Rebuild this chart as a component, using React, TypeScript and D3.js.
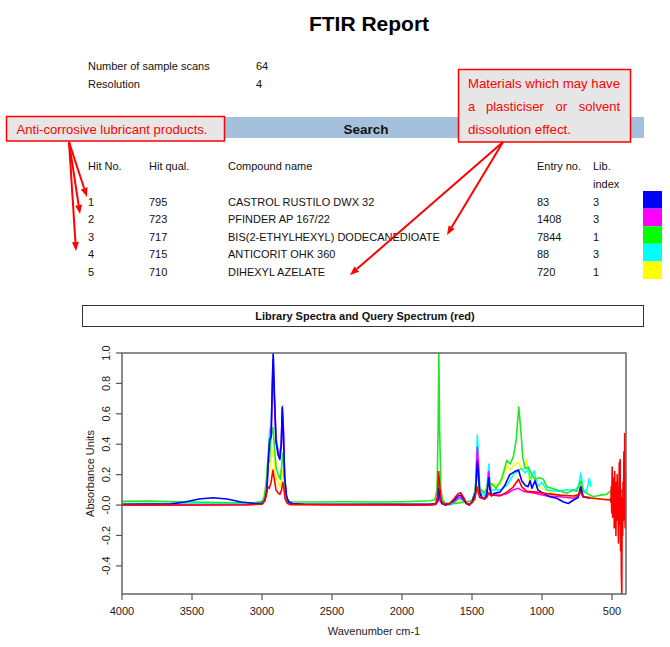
import React from 'react';
import * as d3 from 'd3';

// ---- report data ----
const scanInfo = [
  ['Number of sample scans', '64'],
  ['Resolution', '4'],
];
const hitNo = ['1', '2', '3', '4', '5'];
const hitQual = ['795', '723', '717', '715', '710'];
const compoundNames = [
  'CASTROL RUSTILO DWX 32',
  'PFINDER AP 167/22',
  'BIS(2-ETHYLHEXYL) DODECANEDIOATE',
  'ANTICORIT OHK 360',
  'DIHEXYL AZELATE',
];
const entryNo = ['83', '1408', '7844', '88', '720'];
const libIndex = ['3', '3', '1', '3', '1'];
const hitColors = ['#0000ff', '#ff00ff', '#00ff00', '#00ffff', '#ffff00'];

// ---- axis ticks ----
const xTicks = [4000, 3500, 3000, 2500, 2000, 1500, 1000, 500];
const yTicks = [1.0, 0.8, 0.6, 0.4, 0.2, 0.0, -0.2, -0.4];
const yTickLabels = ['1.0', '0.8', '0.6', '0.4', '0.2', '-0.0', '-0.2', '-0.4'];

// ---- spectra [wavenumber, absorbance] ----
const blueSpec: [number, number][] = [
  [4000, 0.005], [3800, 0.006], [3650, 0.008], [3550, 0.02], [3450, 0.04], [3350, 0.048], [3250, 0.04], [3150, 0.02],
  [3050, 0.01], [3000, 0.012], [2980, 0.03], [2965, 0.1], [2955, 0.3], [2945, 0.43], [2935, 0.45], [2925, 0.85],
  [2920, 1.0], [2912, 0.75], [2900, 0.42], [2885, 0.33], [2872, 0.3], [2862, 0.4], [2855, 0.64], [2848, 0.5],
  [2838, 0.18], [2825, 0.06], [2810, 0.02], [2780, 0.01], [2700, 0.005], [2500, 0.004], [2200, 0.005], [2000, 0.005],
  [1800, 0.005], [1760, 0.008], [1745, 0.03], [1737, 0.11], [1728, 0.05], [1715, 0.01], [1690, 0.0], [1660, 0.01],
  [1630, 0.03], [1600, 0.06], [1580, 0.065], [1560, 0.04], [1540, 0.01], [1520, 0.0], [1500, 0.02], [1475, 0.08],
  [1462, 0.29], [1455, 0.22], [1445, 0.08], [1430, 0.05], [1410, 0.04], [1395, 0.06], [1380, 0.18], [1372, 0.1],
  [1360, 0.06], [1346, 0.075], [1300, 0.085], [1265, 0.13], [1230, 0.2], [1195, 0.22], [1168, 0.23], [1145, 0.16],
  [1120, 0.13], [1100, 0.12], [1085, 0.16], [1072, 0.11], [1050, 0.16], [1030, 0.1], [990, 0.077], [945, 0.055],
  [895, 0.045], [850, 0.022], [812, 0.01], [780, 0.03], [742, 0.05], [723, 0.12], [708, 0.055], [657, 0.045],
];

const magentaSpec: [number, number][] = [
  [4000, 0.0], [3500, 0.0], [3100, 0.002], [3000, 0.01], [2980, 0.03], [2965, 0.1], [2955, 0.28], [2945, 0.42],
  [2935, 0.44], [2925, 0.8], [2920, 0.96], [2912, 0.72], [2900, 0.42], [2885, 0.35], [2872, 0.32], [2862, 0.42],
  [2855, 0.65], [2848, 0.52], [2838, 0.18], [2825, 0.05], [2810, 0.015], [2780, 0.005], [2000, 0.0], [1800, 0.0],
  [1760, 0.003], [1745, 0.02], [1737, 0.05], [1728, 0.03], [1715, 0.01], [1690, 0.0], [1660, 0.005], [1630, 0.02],
  [1600, 0.045], [1580, 0.05], [1560, 0.03], [1540, 0.01], [1520, 0.0], [1500, 0.02], [1475, 0.1], [1462, 0.38],
  [1455, 0.28], [1445, 0.1], [1430, 0.05], [1410, 0.04], [1395, 0.08], [1380, 0.22], [1372, 0.12], [1360, 0.07],
  [1346, 0.065], [1300, 0.065], [1251, 0.075], [1204, 0.1], [1168, 0.11], [1132, 0.09], [1061, 0.08], [966, 0.06],
  [871, 0.055], [776, 0.045], [740, 0.06], [723, 0.12], [705, 0.055], [657, 0.05],
];

const cyanSpec: [number, number][] = [
  [4000, 0.01], [3500, 0.01], [3100, 0.01], [3000, 0.015], [2980, 0.04], [2965, 0.15], [2955, 0.35], [2945, 0.5],
  [2935, 0.51], [2925, 0.8], [2920, 0.9], [2912, 0.7], [2900, 0.45], [2885, 0.36], [2872, 0.33], [2862, 0.42],
  [2855, 0.58], [2848, 0.48], [2838, 0.17], [2825, 0.05], [2810, 0.015], [2780, 0.008], [2000, 0.005], [1800, 0.005],
  [1760, 0.008], [1745, 0.03], [1737, 0.06], [1728, 0.03], [1715, 0.01], [1690, 0.005], [1650, 0.0], [1620, 0.02],
  [1595, 0.04], [1575, 0.035], [1555, 0.02], [1530, 0.005], [1510, 0.01], [1490, 0.04], [1475, 0.12], [1462, 0.46],
  [1455, 0.35], [1445, 0.12], [1430, 0.08], [1410, 0.06], [1395, 0.1], [1380, 0.27], [1372, 0.15], [1360, 0.1],
  [1346, 0.1], [1300, 0.1], [1251, 0.13], [1204, 0.2], [1168, 0.23], [1144, 0.24], [1120, 0.21], [1097, 0.24],
  [1085, 0.17], [1055, 0.225], [1033, 0.12], [1002, 0.15], [966, 0.1], [895, 0.09], [823, 0.1], [764, 0.1],
  [740, 0.12], [723, 0.21], [705, 0.1], [681, 0.09], [662, 0.175], [650, 0.12],
];

const greenSpec: [number, number][] = [
  [4000, 0.025], [3800, 0.027], [3600, 0.022], [3400, 0.018], [3200, 0.015], [3050, 0.016], [3000, 0.025], [2985, 0.05],
  [2970, 0.15], [2958, 0.3], [2948, 0.28], [2935, 0.45], [2922, 0.51], [2912, 0.4], [2900, 0.25], [2885, 0.2],
  [2870, 0.17], [2860, 0.25], [2852, 0.34], [2845, 0.28], [2835, 0.1], [2820, 0.04], [2800, 0.022], [2600, 0.02],
  [2400, 0.022], [2200, 0.02], [2000, 0.022], [1900, 0.025], [1800, 0.028], [1765, 0.035], [1750, 0.1], [1742, 0.5],
  [1737, 1.0], [1731, 0.5], [1722, 0.1], [1710, 0.03], [1690, 0.015], [1660, 0.01], [1620, 0.01], [1580, 0.015],
  [1540, 0.02], [1500, 0.03], [1480, 0.08], [1464, 0.23], [1455, 0.17], [1445, 0.1], [1430, 0.1], [1415, 0.08],
  [1400, 0.1], [1385, 0.14], [1378, 0.16], [1370, 0.13], [1358, 0.14], [1327, 0.11], [1287, 0.175], [1251, 0.295],
  [1227, 0.27], [1204, 0.32], [1184, 0.43], [1166, 0.645], [1151, 0.49], [1137, 0.31], [1120, 0.24], [1097, 0.25],
  [1073, 0.2], [1050, 0.17], [1018, 0.18], [990, 0.17], [966, 0.12], [895, 0.1], [823, 0.077], [776, 0.098],
  [753, 0.09], [723, 0.16], [705, 0.09], [633, 0.055], [585, 0.065], [540, 0.07], [500, 0.1], [470, 0.09],
  [440, 0.095], [400, 0.09],
];

const yellowSpec: [number, number][] = [
  [4000, 0.015], [3500, 0.012], [3100, 0.01], [3000, 0.015], [2985, 0.04], [2970, 0.12], [2958, 0.25], [2948, 0.22],
  [2935, 0.3], [2922, 0.36], [2912, 0.28], [2900, 0.18], [2885, 0.14], [2870, 0.12], [2860, 0.17], [2852, 0.23],
  [2845, 0.19], [2835, 0.07], [2820, 0.025], [2800, 0.012], [2000, 0.01], [1800, 0.01], [1760, 0.015], [1745, 0.04],
  [1737, 0.08], [1728, 0.04], [1715, 0.015], [1690, 0.01], [1650, 0.005], [1600, 0.02], [1580, 0.025], [1550, 0.015],
  [1520, 0.01], [1500, 0.02], [1480, 0.07], [1464, 0.22], [1455, 0.16], [1445, 0.08], [1430, 0.07], [1410, 0.06],
  [1395, 0.08], [1380, 0.15], [1372, 0.1], [1360, 0.12], [1346, 0.14], [1299, 0.13], [1251, 0.26], [1225, 0.23],
  [1192, 0.27], [1166, 0.28], [1140, 0.22], [1110, 0.3], [1090, 0.15], [1060, 0.19], [1020, 0.12], [980, 0.1],
  [900, 0.07], [800, 0.05], [740, 0.06], [723, 0.14], [705, 0.05], [600, 0.04], [500, 0.04], [450, 0.04], [400, 0.04],
];

// query spectrum (red), noisy below ~510 cm-1
const redSpec: [number, number][] = [
  [4000, 0.0], [3500, 0.0], [3100, 0.002], [3000, 0.005], [2985, 0.02], [2970, 0.06], [2958, 0.12], [2948, 0.11],
  [2935, 0.15], [2922, 0.23], [2912, 0.17], [2900, 0.1], [2885, 0.08], [2872, 0.07], [2860, 0.1], [2852, 0.15],
  [2845, 0.12], [2835, 0.04], [2820, 0.012], [2800, 0.003], [2000, 0.0], [1800, 0.0], [1760, 0.005], [1748, 0.05],
  [1738, 0.22], [1730, 0.12], [1720, 0.03], [1700, 0.005], [1660, 0.01], [1630, 0.04], [1600, 0.075], [1580, 0.08],
  [1560, 0.05], [1540, 0.015], [1520, 0.003], [1500, 0.015], [1480, 0.04], [1464, 0.12], [1455, 0.08], [1445, 0.05],
  [1430, 0.045], [1410, 0.04], [1395, 0.05], [1380, 0.08], [1370, 0.065], [1346, 0.065], [1299, 0.06], [1251, 0.085],
  [1204, 0.12], [1168, 0.17], [1144, 0.12], [1109, 0.09], [1038, 0.085], [966, 0.075], [871, 0.065], [776, 0.06],
  [740, 0.07], [728, 0.085], [705, 0.055], [633, 0.045], [585, 0.04], [540, 0.035], [515, 0.035],
  [512, 0.035], [508, 0.02], [505, 0.12], [502, -0.05], [499, 0.25], [496, -0.08], [493, 0.18], [490, -0.02],
  [487, 0.1], [484, -0.15], [481, 0.22], [478, -0.06], [475, 0.15], [472, -0.2], [469, 0.08], [466, -0.1],
  [463, 0.2], [460, -0.05], [457, 0.12], [454, -0.25], [451, 0.05], [448, 0.28], [445, -0.12], [442, 0.3],
  [439, -0.3], [436, 0.1], [433, -0.45], [430, -0.6], [427, 0.05], [424, -0.2], [421, 0.15], [418, -0.1],
  [415, 0.35], [412, -0.05], [409, 0.47], [406, -0.15], [403, 0.2], [400, 0.05],
];

// drawing order: library hits first, query spectrum on top
const spectra = [
  { color: '#ffff00', data: yellowSpec },
  { color: '#00ffff', data: cyanSpec },
  { color: '#ff00ff', data: magentaSpec },
  { color: '#22e622', data: greenSpec },
  { color: '#0000ff', data: blueSpec },
  { color: '#ff0000', data: redSpec },
];

const FONT = '"Liberation Sans", Arial, sans-serif';

const App: React.FC = () => {
  const width = 670;
  const height = 647;
  const plot = { left: 122, right: 626, top: 353, bottom: 594 };

  const x = d3.scaleLinear().domain([4000, 400]).range([plot.left, plot.right]);
  const y = d3.scaleLinear().domain([-0.585, 1.0]).range([plot.bottom, plot.top]);

  const line = d3.line<[number, number]>()
    .x(d => x(d[0]))
    .y(d => y(d[1]));

  const rowY = (i: number) => 205.5 + i * 17.5;

  const arrow = (x1: number, y1: number, x2: number, y2: number, key: string) => {
    const ang = Math.atan2(y2 - y1, x2 - x1);
    const len = 9;
    const w = 3.5;
    const bx = x2 - len * Math.cos(ang);
    const by = y2 - len * Math.sin(ang);
    const px = -Math.sin(ang) * w;
    const py = Math.cos(ang) * w;
    return (
      <g key={key}>
        <line x1={x1} y1={y1} x2={bx} y2={by} stroke="#ff0000" strokeWidth={2} />
        <polygon points={`${x2},${y2} ${bx + px},${by + py} ${bx - px},${by - py}`} fill="#ff0000" />
      </g>
    );
  };

  return (
    <svg width={width} height={height} style={{ position: 'absolute', left: 0, top: 0, background: '#fff' }}
      fontFamily={FONT}>
      <defs>
        <clipPath id="plotClip">
          <rect x={plot.left} y={plot.top} width={plot.right - plot.left} height={plot.bottom - plot.top} />
        </clipPath>
      </defs>

      {/* Header */}
      <text x={369} y={31} textAnchor="middle" fontSize={21} fontWeight="bold" fill="#000">FTIR Report</text>
      {scanInfo.map((r, i) => (
        <g key={r[0]} fontSize={11} fill="#111">
          <text x={88} y={70 + i * 18}>{r[0]}</text>
          <text x={256} y={70 + i * 18}>{r[1]}</text>
        </g>
      ))}

      {/* Search bar */}
      <rect x={82} y={117} width={562} height={21} fill="#a4c0dd" />
      <text x={366} y={134} textAnchor="middle" fontSize={13.5} fontWeight="bold" fill="#111">Search</text>

      {/* Table header */}
      <g fontSize={11} fill="#111">
        <text x={88} y={170}>Hit No.</text>
        <text x={149} y={170}>Hit qual.</text>
        <text x={228} y={170}>Compound name</text>
        <text x={537} y={170}>Entry no.</text>
        <text x={593} y={170}>Lib.</text>
        <text x={593} y={187.5}>index</text>
      </g>
      {hitNo.map((h, i) => (
        <g key={h} fontSize={11} fill="#111">
          <text x={88} y={rowY(i)}>{h}</text>
          <text x={149} y={rowY(i)}>{hitQual[i]}</text>
          <text x={228} y={rowY(i)}>{compoundNames[i]}</text>
          <text x={537} y={rowY(i)}>{entryNo[i]}</text>
          <text x={593} y={rowY(i)}>{libIndex[i]}</text>
          <rect x={643} y={191 + i * 17.6} width={19} height={17.6} fill={hitColors[i]} />
        </g>
      ))}

      {/* Annotations */}
      <rect x={6.5} y={116.5} width={218} height={24.5} fill="#e6e6e6" stroke="#ff0000" strokeWidth={1.5} />
      <text x={16.5} y={134} fontSize={13} textLength={191} lengthAdjust="spacingAndGlyphs" fill="#ff0000">
        Anti-corrosive lubricant products.
      </text>

      <rect x={458.5} y={69.5} width={172} height={72.5} fill="#e6e6e6" stroke="#ff0000" strokeWidth={1.5} />
      <g fontSize={13} fill="#ff0000">
        <text x={468} y={88} textLength={152} lengthAdjust="spacingAndGlyphs">Materials which may have</text>
        <text x={468} y={110.5}>a</text>
        <text x={486} y={110.5}>plasticiser</text>
        <text x={555.5} y={110.5}>or</text>
        <text x={620} y={110.5} textAnchor="end">solvent</text>
        <text x={468} y={133.5} textLength={103} lengthAdjust="spacingAndGlyphs">dissolution effect.</text>
      </g>

      {arrow(69, 142, 87, 197, 'a1')}
      {arrow(69, 142, 80, 214, 'a2')}
      {arrow(69, 142, 76, 251, 'a3')}
      {arrow(503, 142, 447, 235, 'a4')}
      {arrow(503, 142, 350, 275, 'a5')}

      {/* Chart title box */}
      <rect x={82.5} y={305.5} width={561} height={21} fill="#fff" stroke="#333" strokeWidth={1} />
      <text x={365} y={320} textAnchor="middle" fontSize={11} fontWeight="bold" fill="#111">
        Library Spectra and Query Spectrum (red)
      </text>

      {/* Spectra */}
      <g clipPath="url(#plotClip)">
        {spectra.map(s => (
          <path key={s.color} d={line(s.data) || ''} fill="none" stroke={s.color} strokeWidth={1.6}
            strokeLinejoin="round" />
        ))}
      </g>

      {/* Plot frame */}
      <rect x={plot.left} y={plot.top} width={plot.right - plot.left} height={plot.bottom - plot.top}
        fill="none" stroke="#666" strokeWidth={1.5} />

      {/* X axis */}
      <g>
        {xTicks.map(t => (
          <g key={t}>
            <line x1={x(t)} x2={x(t)} y1={plot.bottom} y2={plot.bottom + 6} stroke="#555" strokeWidth={1.2} />
            <text x={x(t)} y={615} textAnchor="middle" fontSize={11} fill="#222">{t}</text>
          </g>
        ))}
        <text x={(plot.left + plot.right) / 2} y={635} textAnchor="middle" fontSize={11} fill="#222">
          Wavenumber cm-1
        </text>
      </g>

      {/* Y axis */}
      <g>
        {yTicks.map((t, i) => (
          <g key={t}>
            <line x1={plot.left - 6} x2={plot.left} y1={y(t)} y2={y(t)} stroke="#555" strokeWidth={1.2} />
            <text transform={`translate(110,${y(t)}) rotate(-90)`} textAnchor="middle" fontSize={11} fill="#222">
              {yTickLabels[i]}
            </text>
          </g>
        ))}
        <text transform={`translate(94,${(plot.top + plot.bottom) / 2}) rotate(-90)`} textAnchor="middle"
          fontSize={11} fill="#222">
          Absorbance Units
        </text>
      </g>
    </svg>
  );
};

export default App;
